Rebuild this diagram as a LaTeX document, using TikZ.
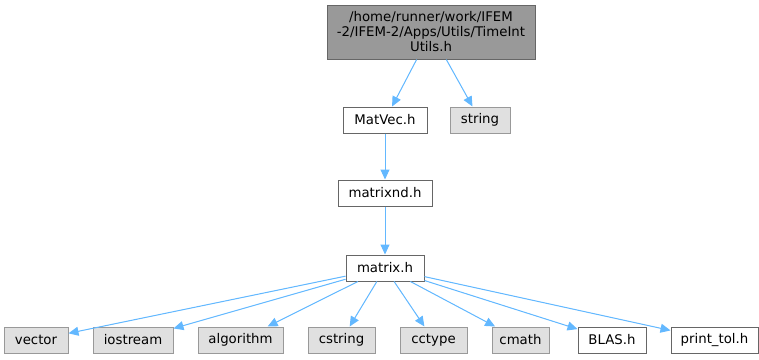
\documentclass[tikz,border=0pt]{standalone}
\usepackage{fontspec}
\setmainfont{DejaVu Sans}
\usetikzlibrary{positioning,arrows.meta}

\definecolor{edgeblue}{HTML}{63B8FF}
\definecolor{curfill}{HTML}{999999}
\definecolor{darkline}{HTML}{666666}
\definecolor{sysfill}{HTML}{E0E0E0}
\definecolor{sysline}{HTML}{999999}

\begin{document}
\begin{tikzpicture}[
    x=1pt, y=-1pt,
    node distance=48pt and 24pt,
    every node/.style={font=\fontsize{13.3}{15}\selectfont, inner sep=0pt, line width=1pt},
    cur/.style={rectangle, draw=darkline, fill=curfill, align=center},
    hdr/.style={rectangle, draw=darkline, fill=white, minimum height=26pt},
    sys/.style={rectangle, draw=sysline, fill=sysfill, minimum height=26pt},
    edge/.style={-{Triangle[length=10pt, width=9pt]}, draw=edgeblue, fill=edgeblue, line width=1pt},
]
\useasboundingbox (0,0) rectangle (759,359);

% Nodes
\node[cur, minimum width=208pt, minimum height=54pt] (utils) at (431,32)
    {/home/runner/work/IFEM\\-2/IFEM-2/Apps/Utils/TimeInt\\Utils.h};
\node[hdr, minimum width=84pt] (matvec) at (385,120) {MatVec.h};
\node[sys, minimum width=60pt, right=22pt of matvec] (string) {string};
\node[hdr, minimum width=94pt, below=46pt of matvec] (matrixnd) {matrixnd.h};
\node[hdr, minimum width=78pt, below=48pt of matrixnd] (matrix) {matrix.h};

\node[sys, minimum width=64pt] (vector) at (36,340) {vector};
\node[sys, minimum width=80pt, right=of vector] (iostream) {iostream};
\node[sys, minimum width=85pt, right=of iostream] (algorithm) {algorithm};
\node[sys, minimum width=67pt, right=of algorithm] (cstring) {cstring};
\node[sys, minimum width=67pt, right=of cstring] (cctype) {cctype};
\node[sys, minimum width=57pt, right=of cctype] (cmath) {cmath};
\node[hdr, minimum width=68pt, right=28pt of cmath] (blas) {BLAS.h};
\node[hdr, minimum width=87pt, right=of blas] (printtol) {print\_tol.h};

% Includes
\draw[edge] (utils) -- (matvec);
\draw[edge] (utils) -- (string);
\draw[edge] (matvec) -- (matrixnd);
\draw[edge] (matrixnd) -- (matrix);
\foreach \dep in {vector,iostream,algorithm,cstring,cctype,cmath,blas,printtol}
    \draw[edge] (matrix) -- (\dep);

\end{tikzpicture}
\end{document}
